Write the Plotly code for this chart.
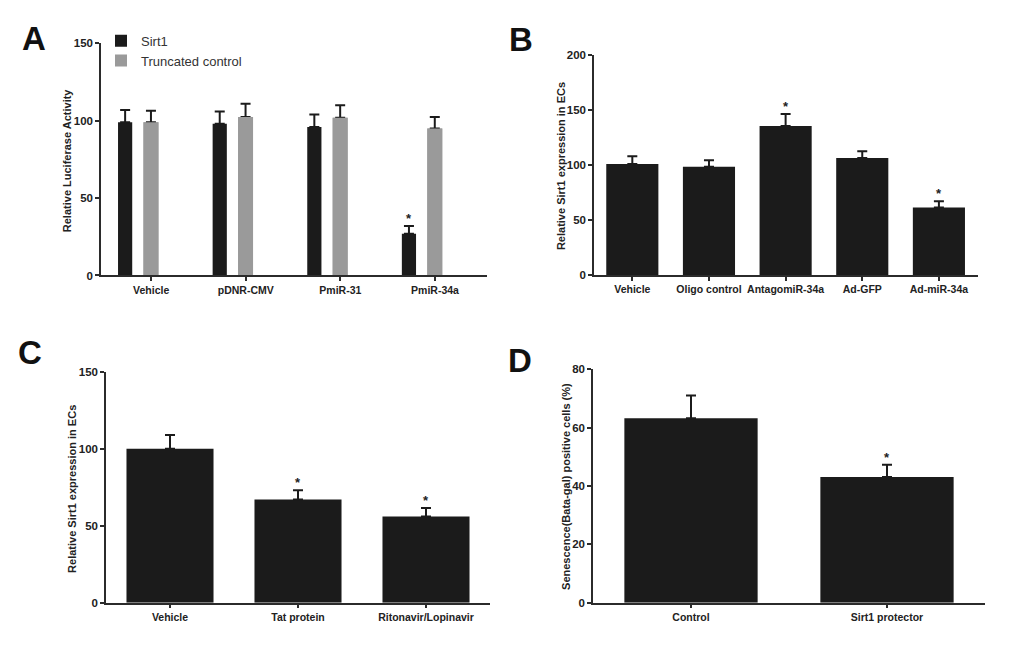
import plotly.graph_objects as go

# DATA ###########################################################################################

a_groups = ['Vehicle', 'pDNR-CMV', 'PmiR-31', 'PmiR-34a']
a_sirt1 = [99, 98, 96, 27]
a_sirt1_err = [8, 8, 8, 5]
a_trunc = [99, 102.5, 102, 95]
a_trunc_err = [7.5, 8.5, 8, 7.5]
a_stars = ['', '', '', '*']

b_groups = ['Vehicle', 'Oligo control', 'AntagomiR-34a', 'Ad-GFP', 'Ad-miR-34a']
b_vals = [101, 98.5, 135.5, 106.5, 61.5]
b_err = [7, 6, 11, 6, 5.5]
b_stars = ['', '', '*', '', '*']

c_groups = ['Vehicle', 'Tat protein', 'Ritonavir/Lopinavir']
c_vals = [100, 67, 56]
c_err = [9, 6, 5.5]
c_stars = ['', '*', '*']

d_groups = ['Control', 'Sirt1 protector']
d_vals = [63.2, 43.1]
d_err = [7.8, 4.2]
d_stars = ['', '*']

# STYLE ##########################################################################################

# the page body keeps its 8px margin, so the figure is 16px smaller than the window
PAD = 8
W, H = 1020 - 2 * PAD, 653 - 2 * PAD
BLACK = '#1b1b1b'
GREY = '#9a9a9a'
AXIS = '#2b2b2b'
FONT = 'Liberation Sans, Arial, sans-serif'


def px_x(p):
    return (p - PAD) / W


def px_y(p):
    return 1 - (p - PAD) / H


def err(vals):
    return dict(type='data', array=vals, arrayminus=[0] * len(vals), symmetric=False,
                color=BLACK, thickness=2, width=5)


def axis_style(**kw):
    d = dict(showline=True, linecolor=AXIS, linewidth=1.5, ticks='outside', ticklen=4,
             tickwidth=1.5, tickcolor=AXIS, showgrid=False, zeroline=False,
             tickfont=dict(family=FONT, size=10.5, color='#222', weight='bold'))
    d.update(kw)
    return d


YFONT = dict(family=FONT, size=11.5, color='#222', weight='bold')

fig = go.Figure()

# panel A
fig.add_trace(go.Bar(name='Sirt1', x=a_groups, y=a_sirt1, error_y=err(a_sirt1_err),
                     marker=dict(color=BLACK, line=dict(width=0)), width=0.15, offset=-0.35,
                     xaxis='x', yaxis='y'))
fig.add_trace(go.Bar(name='Truncated control', x=a_groups, y=a_trunc, error_y=err(a_trunc_err),
                     marker=dict(color=GREY, line=dict(width=0)), width=0.158, offset=-0.081,
                     xaxis='x', yaxis='y'))
# repaint grey bars over the lower caps of their error bars
fig.add_trace(go.Bar(x=a_groups, y=a_trunc, showlegend=False, hoverinfo='skip',
                     marker=dict(color=GREY, line=dict(width=0)), width=0.158, offset=-0.081,
                     xaxis='x', yaxis='y'))

# panels B, C, D
for groups, vals, e, ax in [(b_groups, b_vals, b_err, '2'),
                            (c_groups, c_vals, c_err, '3'),
                            (d_groups, d_vals, d_err, '4')]:
    fig.add_trace(go.Bar(x=groups, y=vals, error_y=err(e), showlegend=False, width=0.68,
                         marker=dict(color=BLACK, line=dict(width=0)),
                         xaxis='x' + ax, yaxis='y' + ax))

annotations = []

# significance stars
for i, s in enumerate(a_stars):
    if s:
        annotations.append(dict(x=i - 0.275, y=a_sirt1[i] + a_sirt1_err[i], xref='x', yref='y',
                                text=s, showarrow=False, yanchor='bottom'))
for groups, vals, e, stars, ax in [(b_groups, b_vals, b_err, b_stars, '2'),
                                   (c_groups, c_vals, c_err, c_stars, '3'),
                                   (d_groups, d_vals, d_err, d_stars, '4')]:
    for g, v, ee, s in zip(groups, vals, e, stars):
        if s:
            annotations.append(dict(x=g, y=v + ee, xref='x' + ax, yref='y' + ax, text=s,
                                    showarrow=False, yanchor='bottom'))
for a in annotations:
    a['font'] = dict(family=FONT, size=13, color='#222', weight='bold')
    a['yshift'] = -2

# panel letters
for letter, cx, cy in [('A', 34, 33), ('B', 521, 34), ('C', 30, 353), ('D', 520, 361)]:
    annotations.append(dict(x=px_x(cx), y=px_y(cy), xref='paper', yref='paper', text=letter,
                            showarrow=False, xanchor='center', yanchor='middle',
                            font=dict(family=FONT, size=33, color='#111', weight='bold')))

# y axis titles
for title, cx, cy in [('Relative Luciferase Activity', 67, 157),
                      ('Relative Sirt1 expression in ECs', 561, 163),
                      ('Relative Sirt1 expression in ECs', 72, 492),
                      ('Senescence(Bata-gal) positive cells (%)', 566, 490)]:
    annotations.append(dict(x=px_x(cx), y=px_y(cy), xref='paper', yref='paper', text=title,
                            showarrow=False, textangle=-90, xanchor='center', yanchor='middle',
                            font=dict(family=FONT, size=11, color='#222', weight='bold')))

fig.update_layout(
    width=W, height=H, margin=dict(l=0, r=0, t=0, b=0),
    paper_bgcolor='white', plot_bgcolor='white', barmode='overlay',
    font=dict(family=FONT, color='#222'),
    showlegend=True,
    legend=dict(x=px_x(101), y=px_y(20), xanchor='left', yanchor='top',
                bgcolor='rgba(0,0,0,0)', font=dict(family=FONT, size=13, color='#333'),
                tracegroupgap=0, itemwidth=30),
    xaxis=axis_style(domain=[px_x(101), px_x(487)], range=[-0.53, 3.55], anchor='y'),
    yaxis=axis_style(domain=[px_y(274.5), px_y(38)], range=[0, 150], tickvals=[0, 50, 100, 150],
                     anchor='x', tickfont=YFONT),
    xaxis2=axis_style(domain=[px_x(594), px_x(978)], range=[-0.5, 4.51], anchor='y2'),
    yaxis2=axis_style(domain=[px_y(274), px_y(50)], range=[0, 200],
                      tickvals=[0, 50, 100, 150, 200], anchor='x2', tickfont=YFONT),
    xaxis3=axis_style(domain=[px_x(106), px_x(490)], range=[-0.5, 2.5], anchor='y3'),
    yaxis3=axis_style(domain=[px_y(608), px_y(372.7)], range=[0, 150],
                      tickvals=[0, 50, 100, 150], anchor='x3', tickfont=YFONT),
    xaxis4=axis_style(domain=[px_x(593), px_x(985)], range=[-0.5, 1.5], anchor='y4'),
    yaxis4=axis_style(domain=[px_y(608), px_y(370)], range=[0, 80],
                      tickvals=[0, 20, 40, 60, 80], anchor='x4', tickfont=YFONT),
    annotations=annotations,
)

fig.write_html('out.html')
